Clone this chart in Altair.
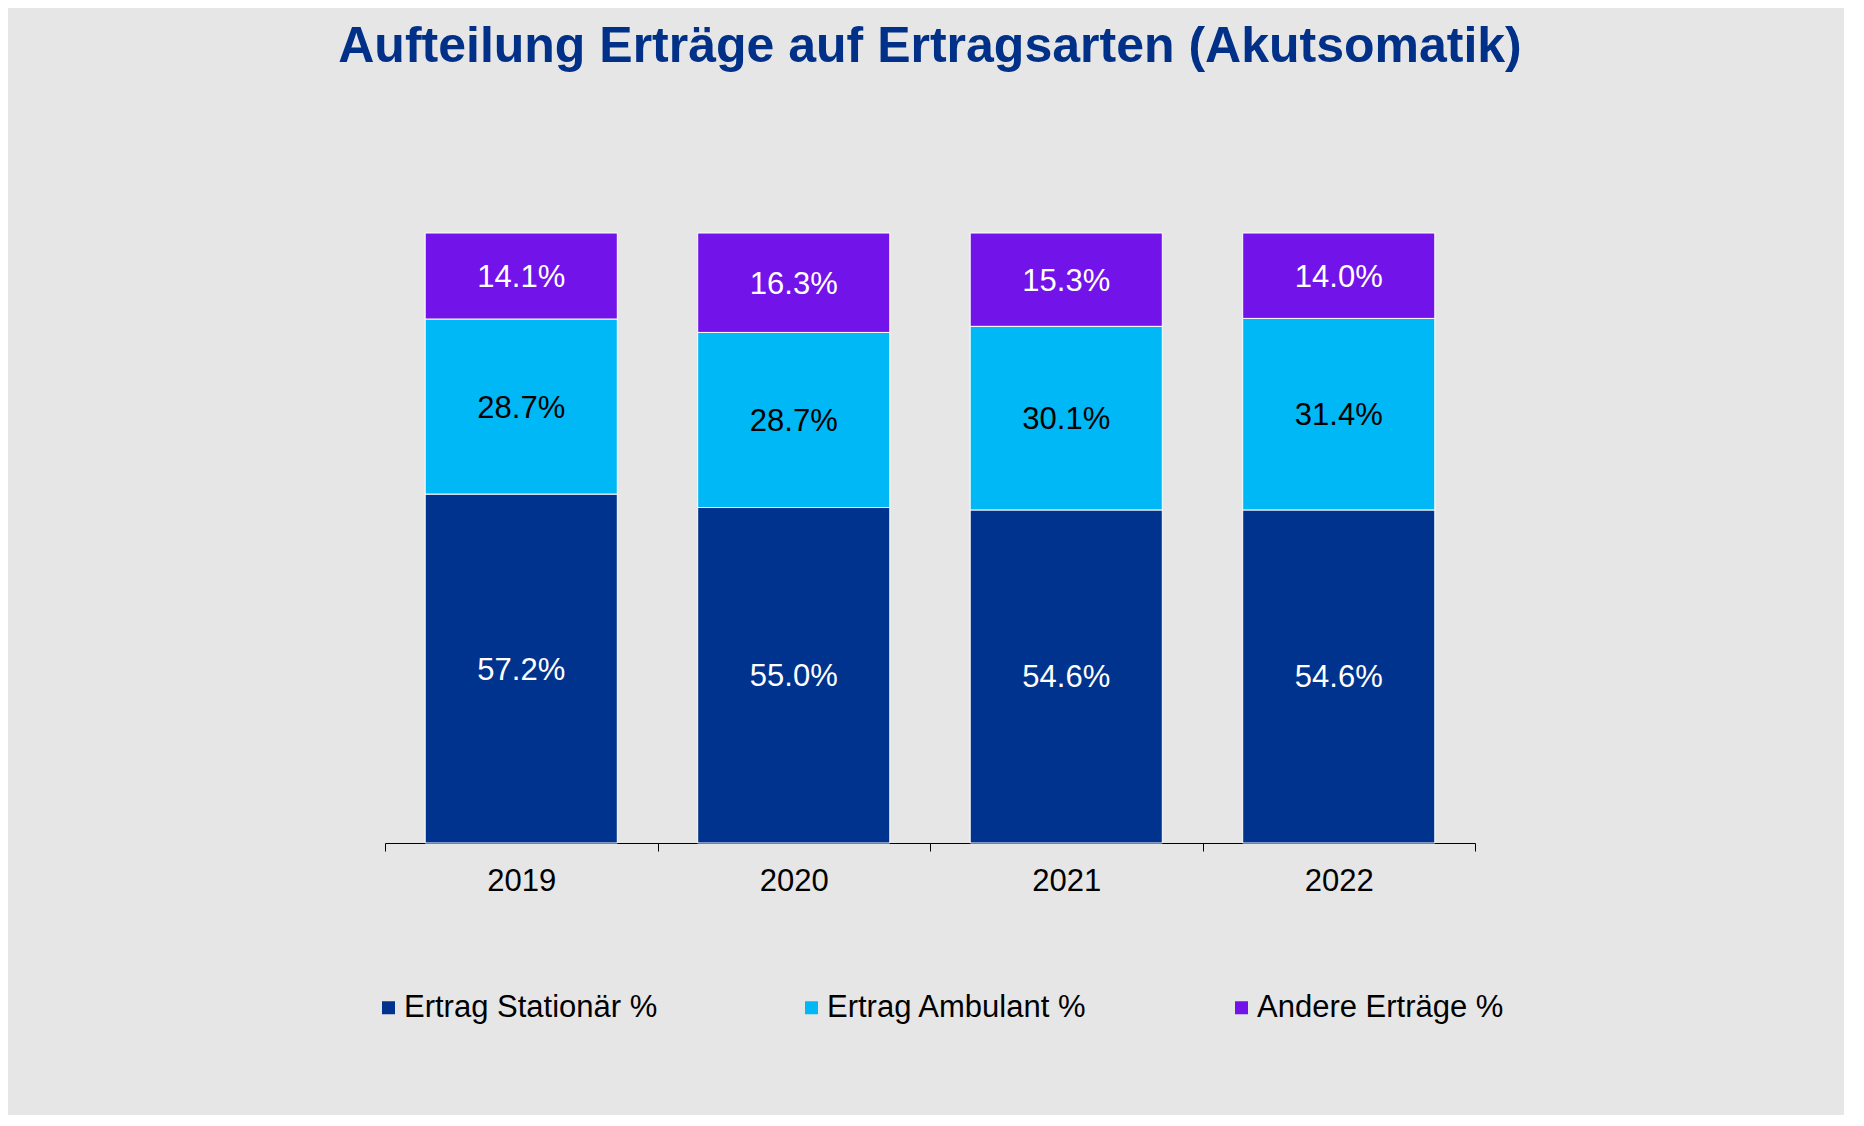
import altair as alt
import pandas as pd

years = ["2019", "2020", "2021", "2022"]
series = ["Ertrag Stationär %", "Ertrag Ambulant %", "Andere Erträge %"]
stationaer = [57.2, 55.0, 54.6, 54.6]
ambulant = [28.7, 28.7, 30.1, 31.4]
andere = [14.1, 16.3, 15.3, 14.0]
colors = ["#00338D", "#00B8F5", "#7213EA"]

rows = []
for i, y in enumerate(years):
    for k, (name, vals) in enumerate(zip(series, [stationaer, ambulant, andere])):
        rows.append({"year": y, "series": name, "value": vals[i], "order": k})
df = pd.DataFrame(rows)

FONT = "Liberation Sans"

base = alt.Chart(df).transform_stack(
    stack="value", groupby=["year"], as_=["v0", "v1"], sort=[alt.SortField("order")]
).transform_calculate(
    mid="(datum.v0 + datum.v1) / 2",
    label="format(datum.value, '.1f') + '%'"
)

xenc = alt.X(
    "year:N",
    title=None,
    scale=alt.Scale(paddingInner=0, paddingOuter=0),
    axis=alt.Axis(
        labelAngle=0, labelFont=FONT, labelFontSize=31, labelColor="black",
        labelPadding=15, tickBand="extent", tickColor="black", tickSize=8,
        domainColor="black", domainWidth=1, tickWidth=1, grid=False,
    ),
)

bars = base.mark_bar(stroke="white", strokeWidth=1, width=alt.RelativeBandSize(0.705)).encode(
    x=xenc,
    y=alt.Y("v0:Q", scale=alt.Scale(domain=[0, 100]), axis=None),
    y2="v1:Q",
    color=alt.Color(
        "series:N",
        scale=alt.Scale(domain=series, range=colors),
        legend=alt.Legend(
            title=None, orient="none", legendX=-12, legendY=759,
            direction="horizontal", columns=3, columnPadding=138,
            symbolType="square", symbolSize=169, symbolStrokeWidth=0,
            labelFont=FONT, labelFontSize=31, labelColor="black",
            labelOffset=0, padding=0, labelLimit=0,
        ),
    ),
)

texts = base.mark_text(font=FONT, fontSize=31, baseline="middle", align="center", dy=2).encode(
    x=alt.X("year:N"),
    y=alt.Y("mid:Q"),
    text="label:N",
    color=alt.condition(alt.datum.series == "Ertrag Ambulant %", alt.value("black"), alt.value("white")),
)

chart = alt.layer(bars, texts).properties(
    width=1090,
    height=610,
    padding={"left": 330, "top": 13, "right": 322, "bottom": 92},
    background="#E6E6E6",
    title=alt.TitleParams(
        "Aufteilung Erträge auf Ertragsarten (Akutsomatik)",
        font=FONT, fontSize=50, fontWeight="bold", color="#003087",
        anchor="middle", offset=161,
    ),
).configure_view(stroke=None)

chart.save("out.html", embed_options={"renderer": "svg", "actions": False})
